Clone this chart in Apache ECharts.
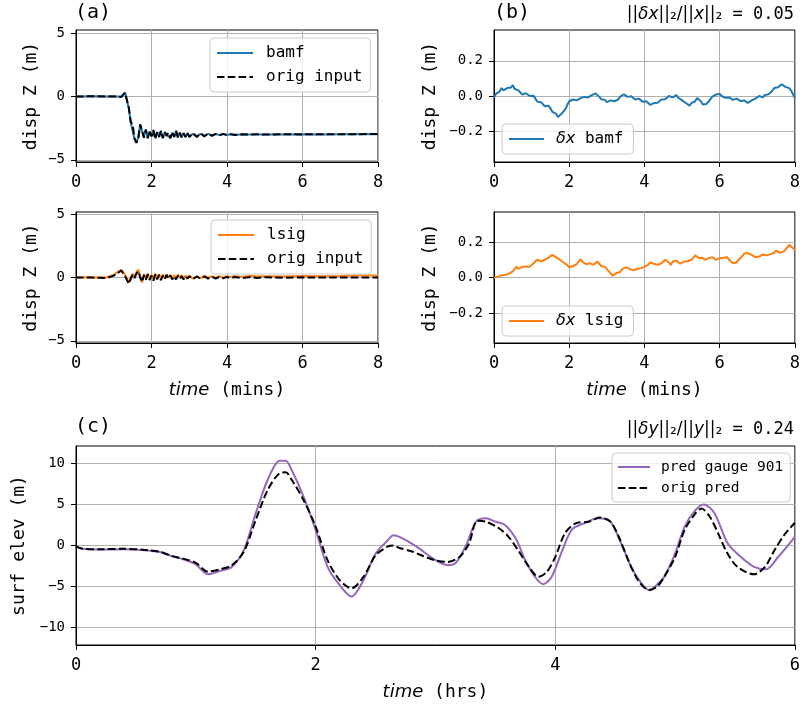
<!DOCTYPE html>
<html>
<head>
<meta charset="utf-8">
<script src="https://cdn.jsdelivr.net/npm/echarts@6/dist/echarts.min.js"></script>
<style>html,body{margin:0;padding:0;background:#fff;}#c{width:803px;height:708px;}</style>
</head>
<body>
<div id="c"></div>
<script>
// ---------- data ----------
const tA = [0,0.4,0.8,1.0,1.1,1.2,1.25,1.3,1.35,1.4,1.45,1.5,1.55,1.6,1.65,1.7,1.75,1.8,1.85,1.9,1.95,2.0,2.05,2.1,2.15,2.2,2.25,2.3,2.35,2.4,2.45,2.5,2.55,2.6,2.65,2.7,2.75,2.8,2.85,2.9,2.95,3.0,3.1,3.2,3.3,3.4,3.5,3.6,3.7,3.8,3.9,4.0,4.1,4.2,4.4,4.6,4.8,5.0,5.5,6.0,6.5,7.0,7.5,8.0];
const origA1 = [0,0.02,0.0,0.01,0.0,-0.03,0.05,0.3,0.42,-0.9,-2.0,-2.2,-3.3,-3.65,-3.3,-2.2,-2.35,-3.25,-2.6,-3.3,-2.7,-3.15,-2.65,-3.35,-2.8,-3.2,-2.7,-3.3,-2.8,-3.1,-2.85,-3.3,-2.8,-3.2,-2.7,-3.25,-2.85,-3.25,-2.9,-3.2,-2.85,-3.2,-2.9,-3.2,-2.9,-3.15,-2.92,-3.1,-2.95,-3.06,-2.95,-3.05,-2.97,-3.04,-2.98,-3.01,-2.98,-3.0,-2.98,-2.99,-2.98,-2.98,-2.97,-2.96];
const bamfA1 = [0.01,0.03,0.01,0.02,0.01,-0.02,0.06,0.32,0.4,-0.95,-2.05,-2.15,-3.35,-3.6,-3.25,-2.25,-2.3,-3.2,-2.65,-3.25,-2.75,-3.1,-2.7,-3.3,-2.85,-3.15,-2.75,-3.25,-2.85,-3.05,-2.9,-3.25,-2.85,-3.15,-2.75,-3.2,-2.9,-3.2,-2.95,-3.15,-2.9,-3.15,-2.95,-3.15,-2.95,-3.1,-2.95,-3.06,-2.97,-3.04,-2.97,-3.03,-2.98,-3.02,-2.99,-3.0,-2.99,-3.0,-2.99,-2.98,-2.99,-2.98,-2.96,-2.97];
const origA2 = [0,0,-0.05,0.15,0.35,0.55,0.45,0.1,-0.2,-0.5,-0.1,0.2,-0.05,0.3,0.5,0.0,-0.35,0.2,-0.2,0.25,-0.2,0.15,-0.25,0.25,-0.15,0.2,-0.2,0.15,-0.15,0.2,-0.1,0.15,-0.15,0.1,-0.15,0.15,-0.1,0.1,-0.15,0.1,-0.1,0.1,-0.12,0.08,-0.1,0.08,-0.08,0.06,-0.08,0.05,-0.06,0.05,-0.06,0.04,-0.04,0.03,-0.03,0.02,-0.02,0.01,0.0,0.0,0.0,0.0];
const lsigA2 = [0.0,0.02,0.0,0.2,0.42,0.6,0.5,0.2,-0.1,-0.4,0.0,0.3,0.05,0.4,0.62,0.1,-0.4,0.25,-0.1,0.3,-0.1,0.2,-0.15,0.3,-0.05,0.25,-0.1,0.25,-0.05,0.25,-0.02,0.22,-0.08,0.18,-0.08,0.22,-0.02,0.18,-0.08,0.15,-0.05,0.14,-0.1,0.1,-0.06,0.12,-0.02,0.1,-0.03,0.1,0.0,0.1,0.01,0.12,0.04,0.13,0.07,0.1,0.08,0.12,0.1,0.11,0.15,0.16];

const tB = [0,0.05,0.1,0.15,0.2,0.25,0.3,0.35,0.4,0.45,0.5,0.55,0.6,0.65,0.7,0.75,0.8,0.85,0.9,0.95,
  1.0,1.05,1.1,1.15,1.2,1.25,1.3,1.35,1.4,1.45,1.5,1.55,1.6,1.65,1.7,1.75,1.8,1.85,1.9,1.95,
  2.0,2.05,2.1,2.15,2.2,2.25,2.3,2.35,2.4,2.45,2.5,2.55,2.6,2.65,2.7,2.75,2.8,2.85,2.9,2.95,
  3.0,3.05,3.1,3.15,3.2,3.25,3.3,3.35,3.4,3.45,3.5,3.55,3.6,3.65,3.7,3.75,3.8,3.85,3.9,3.95,
  4.0,4.05,4.1,4.15,4.2,4.25,4.3,4.35,4.4,4.45,4.5,4.55,4.6,4.65,4.7,4.75,4.8,4.85,4.9,4.95,
  5.0,5.05,5.1,5.15,5.2,5.25,5.3,5.35,5.4,5.45,5.5,5.55,5.6,5.65,5.7,5.75,5.8,5.85,5.9,5.95,
  6.0,6.05,6.1,6.15,6.2,6.25,6.3,6.35,6.4,6.45,6.5,6.55,6.6,6.65,6.7,6.75,6.8,6.85,6.9,6.95,
  7.0,7.05,7.1,7.15,7.2,7.25,7.3,7.35,7.4,7.45,7.5,7.55,7.6,7.65,7.7,7.75,7.8,7.85,7.9,7.95,8.0];
const dxBamf = [-0.01,0.012,0.02,0.025,0.045,0.032,0.035,0.045,0.04,0.048,0.062,0.04,0.03,0.032,0.02,0.008,0.008,0.016,0.012,0.0,
  -0.002,0.002,-0.015,-0.032,-0.04,-0.035,-0.045,-0.058,-0.06,-0.055,-0.07,-0.09,-0.095,-0.1,-0.12,-0.115,-0.1,-0.092,-0.075,-0.05,
  -0.03,-0.03,-0.02,-0.015,-0.025,-0.025,-0.012,-0.002,-0.005,-0.01,-0.008,0.002,0.005,0.0,0.015,0.01,-0.005,-0.018,-0.02,-0.022,
  -0.035,-0.03,-0.025,-0.022,-0.03,-0.032,-0.02,-0.005,0.0,0.01,0.008,-0.005,-0.008,-0.002,-0.01,-0.02,-0.018,-0.015,-0.025,-0.032,
  -0.032,-0.03,-0.04,-0.05,-0.052,-0.04,-0.035,-0.038,-0.03,-0.02,-0.018,-0.018,-0.01,0.0,-0.005,-0.008,0.002,0.005,-0.01,-0.02,
  -0.025,-0.028,-0.04,-0.05,-0.055,-0.04,-0.035,-0.03,-0.012,-0.015,-0.03,-0.048,-0.055,-0.045,-0.04,-0.02,-0.005,0.0,0.008,0.015,
  0.012,0.0,0.0,-0.01,-0.01,-0.008,-0.015,-0.022,-0.02,-0.015,-0.018,-0.028,-0.028,-0.025,-0.035,-0.04,-0.035,-0.025,-0.015,-0.015,
  -0.005,0.0,-0.005,-0.008,0.005,0.012,0.01,0.015,0.03,0.045,0.055,0.05,0.058,0.066,0.064,0.052,0.05,0.045,0.03,0.01,-0.01];
const dxLsig = [0.0,0.006,0.005,0.003,0.012,0.018,0.015,0.02,0.022,0.02,0.034,0.04,0.062,0.048,0.05,0.06,0.053,0.062,0.065,0.06,
  0.071,0.08,0.09,0.1,0.1,0.092,0.095,0.1,0.109,0.112,0.12,0.128,0.126,0.115,0.109,0.1,0.09,0.085,0.075,0.07,
  0.058,0.062,0.065,0.07,0.075,0.09,0.103,0.09,0.085,0.075,0.071,0.08,0.078,0.072,0.08,0.09,0.085,0.065,0.055,0.06,
  0.047,0.04,0.025,0.01,0.012,0.025,0.034,0.03,0.045,0.05,0.058,0.052,0.05,0.045,0.04,0.05,0.048,0.045,0.053,0.058,
  0.06,0.065,0.072,0.085,0.09,0.078,0.08,0.072,0.071,0.08,0.085,0.1,0.108,0.085,0.071,0.09,0.1,0.095,0.088,0.078,
  0.08,0.09,0.085,0.092,0.096,0.1,0.11,0.125,0.122,0.11,0.105,0.112,0.1,0.105,0.108,0.118,0.115,0.108,0.1,0.11,
  0.109,0.118,0.112,0.105,0.115,0.1,0.09,0.08,0.071,0.085,0.1,0.105,0.12,0.135,0.141,0.138,0.135,0.128,0.122,0.115,
  0.109,0.118,0.125,0.13,0.133,0.125,0.12,0.132,0.128,0.14,0.152,0.145,0.14,0.15,0.146,0.158,0.165,0.185,0.18,0.165,0.156];

const tCorig = [0,0.05,0.2,0.4,0.6,0.7,0.8,0.9,1.0,1.1,1.2,1.3,1.4,1.5,1.6,1.7,1.75,1.8,1.9,2.0,2.1,2.2,2.3,2.4,2.5,2.6,2.65,2.7,2.8,2.9,3.0,3.1,3.2,3.28,3.35,3.42,3.53,3.61,3.69,3.78,3.86,3.93,4.0,4.08,4.17,4.28,4.37,4.46,4.53,4.61,4.69,4.78,4.85,4.91,5.0,5.08,5.17,5.22,5.29,5.36,5.43,5.52,5.66,5.75,5.83,5.91,6.0];
const origPred = [-0.1,-0.37,-0.45,-0.4,-0.57,-0.77,-1.26,-1.63,-2.1,-3.17,-2.9,-2.4,-0.77,3.1,6.75,8.8,8.9,8.0,5.5,2.3,-1.8,-4.2,-5.2,-3.8,-1.2,-0.15,0.0,-0.3,-0.7,-1.3,-1.8,-2.0,-1.4,0.24,3.0,2.9,2.1,1.06,-0.57,-2.6,-3.8,-3.2,-1.4,1.46,2.7,2.9,3.4,2.9,1.06,-1.8,-4.2,-5.4,-5.0,-3.8,-1.4,1.9,3.9,4.5,3.5,1.46,-0.77,-2.6,-3.5,-2.6,-0.57,1.26,2.76];
const tCpred = [0,0.05,0.2,0.4,0.6,0.7,0.8,0.9,1.0,1.1,1.2,1.3,1.4,1.5,1.6,1.7,1.75,1.8,1.9,2.0,2.1,2.2,2.3,2.4,2.5,2.6,2.65,2.7,2.84,2.98,3.1,3.17,3.25,3.34,3.42,3.5,3.58,3.67,3.75,3.83,3.9,3.97,4.06,4.14,4.25,4.36,4.46,4.55,4.64,4.72,4.79,4.86,4.91,5.0,5.08,5.17,5.24,5.33,5.44,5.55,5.66,5.76,5.86,6.0];
const predGauge = [-0.1,-0.4,-0.5,-0.45,-0.6,-0.8,-1.3,-1.7,-2.3,-3.5,-3.1,-2.6,-0.6,3.9,8.0,10.3,10.3,9.2,5.9,1.9,-2.6,-4.8,-6.2,-4.2,-1.0,0.6,1.26,1.05,-0.1,-1.6,-2.4,-2.1,-0.16,2.9,3.3,2.9,2.5,0.85,-1.8,-3.8,-4.7,-3.8,-0.57,1.95,2.76,3.3,2.9,0.24,-2.8,-4.6,-5.45,-4.6,-3.8,-1.0,2.3,4.3,5.0,3.9,0.24,-1.4,-2.6,-2.9,-1.4,1.06];

const ticksA = [-5,0,5];
const ticksB = [-0.2,0,0.2];
const ticksC = [-10,-5,0,5,10];

// ---------- helpers ----------
const mono = 'DejaVu Sans Mono';
const zip = (xs, ys) => xs.map((x, i) => [x, ys[i]]);
const minus = s => String(s).replace('-', '\u2212');
const gridLine = { show: true, lineStyle: { color: '#b0b0b0', width: 1 } };
const axLine = { show: true, onZero: false, lineStyle: { color: '#000', width: 1 } };
const axTick = { show: true, length: 5, lineStyle: { color: '#000', width: 1 } };
const italicRich = { i: { fontFamily: 'DejaVu Sans', fontStyle: 'italic', fontWeight: 'normal', fontSize: 18, color: '#000' } };

function xAx(gi, max, name) {
  return {
    type: 'value', gridIndex: gi, min: 0, max: max, interval: 2,
    axisLine: axLine, axisTick: axTick, splitLine: gridLine,
    axisLabel: { fontFamily: mono, fontSize: 17, color: '#000', margin: 12 },
    name: name || '', nameLocation: 'middle', nameGap: 38,
    nameTextStyle: { fontFamily: mono, fontSize: 18, color: '#000', rich: italicRich }
  };
}
function yAx(gi, min, max, ticks, name, gap, fmt) {
  return {
    type: 'value', gridIndex: gi, min: min, max: max,
    axisLine: axLine,
    axisTick: Object.assign({ customValues: ticks }, axTick),
    splitLine: gridLine,
    axisLabel: { customValues: ticks, fontFamily: mono, fontSize: 14, color: '#000', margin: 11, formatter: fmt },
    name: name, nameLocation: 'middle', nameGap: gap,
    nameTextStyle: { fontFamily: mono, fontSize: 18, color: '#000' }
  };
}
const fmtInt = v => minus(v);
const fmtDec = v => minus(v.toFixed(1));

function line(name, gi, xs, ys, color, dashed) {
  return {
    type: 'line', name: name, xAxisIndex: gi, yAxisIndex: gi,
    data: zip(xs, ys), symbol: 'none', showSymbol: false, color: color,
    lineStyle: { color: color, width: 2, type: dashed ? [7.5, 3.3] : 'solid' },
    animation: false, z: dashed ? 3 : 2
  };
}
function legendBox(names, left, top, fs, itemW, pad, gap, lh, textPad, fmt) {
  const l = {
    data: names, orient: 'vertical', left: left, top: top,
    backgroundColor: 'rgba(255,255,255,0.8)', borderColor: '#cccccc', borderWidth: 1, borderRadius: 4,
    padding: pad, itemGap: gap, itemWidth: itemW, itemHeight: 4,
    itemStyle: { opacity: 0 },
    textStyle: { fontFamily: mono, fontSize: fs, color: '#000', lineHeight: lh, padding: [0, 0, 0, textPad],
      rich: { i: { fontFamily: 'DejaVu Sans', fontStyle: 'italic', fontSize: fs, color: '#000' } } },
    selectedMode: false
  };
  if (fmt) l.formatter = fmt;
  return l;
}
const tstyle = { fontFamily: mono, fontSize: 20, fontWeight: 'normal', color: '#000' };
const annRich = {
  m: { fontFamily: 'DejaVu Sans', fontSize: 17, fontWeight: 'normal', color: '#000' },
  i: { fontFamily: 'DejaVu Sans', fontStyle: 'italic', fontSize: 17, fontWeight: 'normal', color: '#000' },
  t: { fontFamily: mono, fontSize: 17, fontWeight: 'normal', color: '#000' }
};
const annStyle = { fontWeight: 'normal', fontSize: 17, color: '#000', rich: annRich };

const option = {
  backgroundColor: '#fff',
  animation: false,
  title: [
    { text: '(a)', left: 75, top: 3, padding: 0, textStyle: tstyle },
    { text: '(b)', left: 494, top: 3, padding: 0, textStyle: tstyle },
    { text: '(c)', left: 75, top: 417, padding: 0, textStyle: tstyle },
    { text: '{m|||}{i|\u03b4x}{m|||\u2082/||}{i|x}{m|||\u2082}{t| = 0.05}', right: 9, top: 6, padding: 0,
      textStyle: annStyle },
    { text: '{m|||}{i|\u03b4y}{m|||\u2082/||}{i|y}{m|||\u2082}{t| = 0.24}', right: 9, top: 421, padding: 0,
      textStyle: annStyle }
  ],
  grid: [
    { left: 76, top: 30, width: 302, height: 132, show: true, borderColor: '#000', borderWidth: 1, backgroundColor: 'transparent' },
    { left: 76, top: 212, width: 302, height: 131, show: true, borderColor: '#000', borderWidth: 1, backgroundColor: 'transparent' },
    { left: 494, top: 30, width: 303, height: 132, show: true, borderColor: '#000', borderWidth: 1, backgroundColor: 'transparent' },
    { left: 494, top: 212, width: 303, height: 131, show: true, borderColor: '#000', borderWidth: 1, backgroundColor: 'transparent' },
    { left: 76, top: 446, width: 721, height: 199, show: true, borderColor: '#000', borderWidth: 1, backgroundColor: 'transparent' }
  ],
  xAxis: [
    xAx(0, 8), xAx(1, 8, '{i|time} (mins)'), xAx(2, 8), xAx(3, 8, '{i|time} (mins)'), xAx(4, 6, '{i|time} (hrs)')
  ],
  yAxis: [
    yAx(0, -5.17, 5.25, ticksA, 'disp Z (m)', 36, fmtInt),
    yAx(1, -5.17, 5.17, ticksA, 'disp Z (m)', 36, fmtInt),
    yAx(2, -0.375, 0.375, ticksB, 'disp Z (m)', 55, fmtDec),
    yAx(3, -0.37, 0.37, ticksB, 'disp Z (m)', 55, fmtDec),
    yAx(4, -12.1, 12.1, ticksC, 'surf elev (m)', 47, fmtInt)
  ],
  legend: [
    legendBox(['bamf', 'orig input'], 210, 38, 16, 36, [5, 8, 5, 6], 4, 20, 8),
    legendBox(['lsig', 'orig input'], 211, 220, 16, 36, [5, 8, 5, 6], 4, 20, 8),
    legendBox(['\u03b4x bamf'], 502, 124, 16, 35, [5, 10, 5, 6], 4, 20, 7, n => '{i|\u03b4x} bamf'),
    legendBox(['\u03b4x lsig'], 502, 306, 16, 35, [5, 10, 5, 6], 4, 20, 7, n => '{i|\u03b4x} lsig'),
    legendBox(['pred gauge 901', 'orig pred'], 612, 453, 14.5, 32, [5, 7, 5, 5], 3, 18, 6)
  ],
  series: [
    line('bamf', 0, tA, bamfA1, '#1f77b4', false),
    line('orig input', 0, tA, origA1, '#000000', true),
    line('lsig', 1, tA, lsigA2, '#ff7f0e', false),
    line('orig input', 1, tA, origA2, '#000000', true),
    line('\u03b4x bamf', 2, tB, dxBamf, '#1f77b4', false),
    line('\u03b4x lsig', 3, tB, dxLsig, '#ff7f0e', false),
    Object.assign(line('pred gauge 901', 4, tCpred, predGauge, '#9467bd', false), { smooth: 0.3 }),
    Object.assign(line('orig pred', 4, tCorig, origPred, '#000000', true), { smooth: 0.3 })
  ]
};
const chart = echarts.init(document.getElementById('c'), null, { renderer: 'canvas' });
chart.setOption(option);
</script>
</body>
</html>
